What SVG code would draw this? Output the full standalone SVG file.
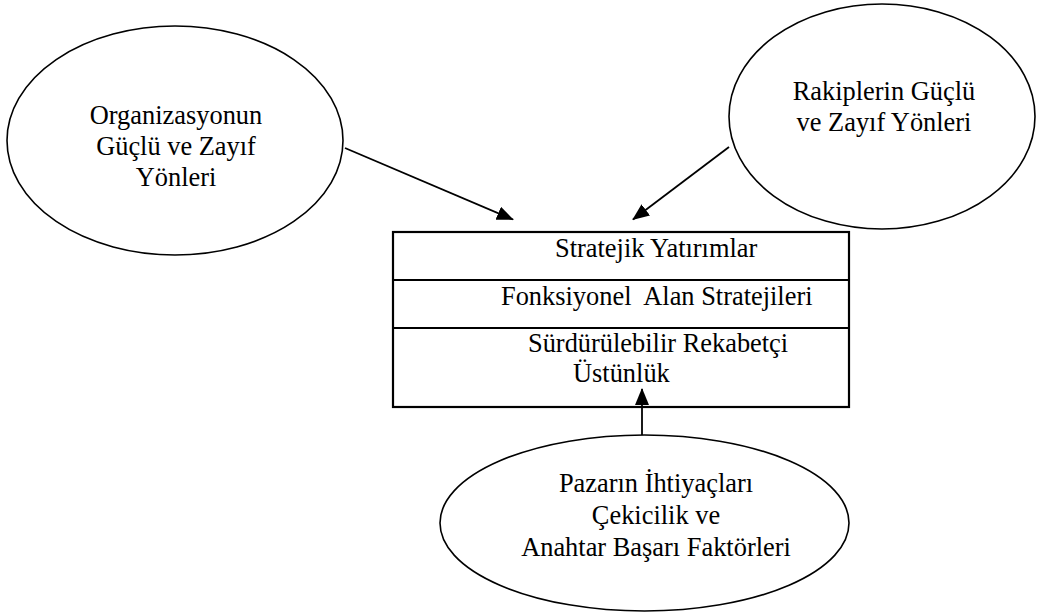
<svg xmlns="http://www.w3.org/2000/svg" width="1040" height="614" viewBox="0 0 1040 614">
  <style>
    .shape { fill: #ffffff; stroke: #000000; stroke-width: 1.6; }
    .box { fill: #ffffff; stroke: #000000; stroke-width: 2.2; }
    .div { stroke: #000000; stroke-width: 2.2; }
    .lbl { font-family: "Liberation Serif", "Times New Roman", serif; font-size: 26.4px; fill: #000000; }
    .mid { text-anchor: middle; }
    .link { stroke: #000000; stroke-width: 1.8; fill: none; marker-end: url(#head); }
  </style>
  <defs>
    <marker id="head" markerWidth="17" markerHeight="14" refX="16" refY="7" orient="auto" markerUnits="userSpaceOnUse">
      <path d="M0,0 L17,7 L0,14 Z" fill="#000000"/>
    </marker>
  </defs>

  <!-- left source: own organisation -->
  <g id="node-organizasyon">
    <ellipse class="shape" cx="175" cy="140.5" rx="168" ry="114.5"/>
    <text class="lbl mid" x="176" y="124">Organizasyonun</text>
    <text class="lbl mid" x="176" y="155">Güçlü ve Zayıf</text>
    <text class="lbl mid" x="176" y="186">Yönleri</text>
  </g>

  <!-- right source: competitors -->
  <g id="node-rakipler">
    <ellipse class="shape" cx="882" cy="116.5" rx="153" ry="112.5"/>
    <text class="lbl mid" x="884" y="100">Rakiplerin Güçlü</text>
    <text class="lbl mid" x="884" y="131">ve Zayıf Yönleri</text>
  </g>

  <!-- central stacked box -->
  <g id="node-strateji">
    <rect class="box" x="393" y="232" width="456" height="175"/>
    <line class="div" x1="393" y1="280" x2="849" y2="280"/>
    <line class="div" x1="393" y1="328" x2="849" y2="328"/>
    <text class="lbl" x="555" y="257">Stratejik Yatırımlar</text>
    <text class="lbl" x="501" y="305" style="white-space:pre">Fonksiyonel  Alan Stratejileri</text>
    <text class="lbl" x="528" y="352">Sürdürülebilir Rekabetçi</text>
    <text class="lbl" x="573" y="382">Üstünlük</text>
  </g>

  <!-- bottom source: market -->
  <g id="node-pazar">
    <ellipse class="shape" cx="644.5" cy="523" rx="204.5" ry="88"/>
    <text class="lbl mid" x="656" y="492">Pazarın İhtiyaçları</text>
    <text class="lbl mid" x="656" y="524">Çekicilik ve</text>
    <text class="lbl mid" x="656" y="556">Anahtar Başarı Faktörleri</text>
  </g>

  <!-- connectors -->
  <g id="connectors">
    <line class="link" x1="345" y1="148" x2="513" y2="219.5"/>
    <line class="link" x1="729" y1="147" x2="633" y2="219.5"/>
    <line class="link" x1="642" y1="435" x2="642" y2="389"/>
  </g>
</svg>
